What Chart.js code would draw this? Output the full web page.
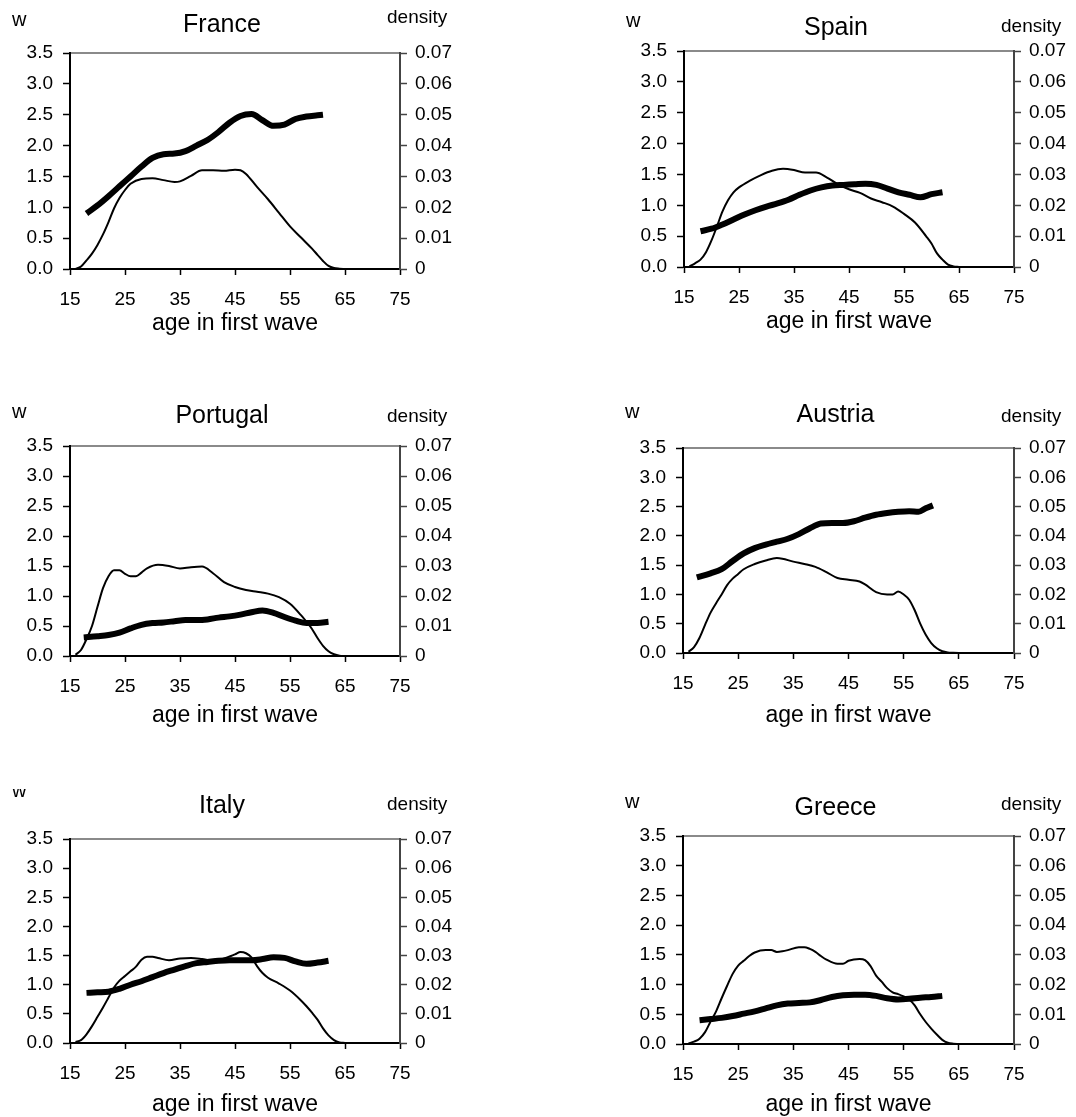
<!DOCTYPE html>
<html>
<head>
<meta charset="utf-8">
<title>w and density by age in first wave</title>
<script src="https://cdn.jsdelivr.net/npm/chart.js@4.4.1/dist/chart.umd.min.js"></script>
<style>
    html, body { margin: 0; padding: 0; background: #fff; }
    #page { position: relative; width: 1076px; height: 1117px; overflow: hidden; }
    #page canvas { position: absolute; }
</style>
</head>
<body>
<div id="page"></div>
<script>
// --- data (w on left axis, density on right axis) ---
const xTicks = [15, 25, 35, 45, 55, 65, 75];
const wTicks = [0, 0.5, 1, 1.5, 2, 2.5, 3, 3.5];
const densityTicks = [0, 0.01, 0.02, 0.03, 0.04, 0.05, 0.06, 0.07];
const densityTickLabels = ['0', '0.01', '0.02', '0.03', '0.04', '0.05', '0.06', '0.07'];

const franceWAge = [18, 20, 22, 24, 26, 28, 30, 32, 34, 36, 38, 40, 42, 44, 46, 48, 50, 52, 54, 56, 58, 60, 61];
const franceW = [0.90, 1.03, 1.18, 1.34, 1.50, 1.66, 1.80, 1.86, 1.87, 1.91, 2.00, 2.09, 2.22, 2.37, 2.48, 2.51, 2.41, 2.32, 2.34, 2.43, 2.47, 2.49, 2.50];
const franceDensAge = [16, 17, 18, 19, 20, 21, 22, 23, 24, 25, 26, 28, 30, 32, 34, 35, 37, 39, 41, 43, 45, 46, 47, 49, 51, 53, 55, 57, 59, 60, 61, 62, 63, 64, 65];
const franceDens = [0, 0.0008, 0.0028, 0.0050, 0.0078, 0.0112, 0.0152, 0.0196, 0.0230, 0.0256, 0.0276, 0.0292, 0.0294, 0.0288, 0.0282, 0.0284, 0.0302, 0.0320, 0.0320, 0.0318, 0.0322, 0.0320, 0.0308, 0.0266, 0.0226, 0.0182, 0.0138, 0.0102, 0.0066, 0.0046, 0.0026, 0.0010, 0.0003, 0.0001, 0];

const spainWAge = [18, 20, 22, 24, 26, 28, 30, 32, 34, 36, 38, 40, 42, 44, 46, 48, 50, 52, 54, 56, 58, 60, 62];
const spainW = [0.58, 0.62, 0.69, 0.77, 0.85, 0.92, 0.98, 1.03, 1.09, 1.17, 1.24, 1.29, 1.32, 1.33, 1.34, 1.35, 1.33, 1.27, 1.21, 1.17, 1.13, 1.18, 1.21];
const spainDensAge = [16, 17, 18, 19, 20, 21, 22, 23, 24, 25, 27, 29, 31, 33, 35, 37, 39, 41, 43, 45, 47, 49, 51, 53, 55, 57, 59, 60, 61, 62, 63, 64, 65];
const spainDens = [0.0002, 0.0012, 0.0024, 0.0048, 0.0086, 0.0132, 0.0180, 0.0216, 0.0242, 0.0258, 0.0280, 0.0298, 0.0312, 0.0318, 0.0314, 0.0306, 0.0306, 0.0290, 0.0268, 0.0252, 0.0240, 0.0222, 0.0210, 0.0196, 0.0172, 0.0144, 0.0100, 0.0076, 0.0044, 0.0024, 0.0008, 0.0002, 0];

const portugalWAge = [17.5, 20, 22, 24, 26, 28, 30, 32, 34, 36, 38, 40, 42, 44, 46, 48, 50, 52, 54, 56, 58, 60, 62];
const portugalW = [0.31, 0.33, 0.35, 0.39, 0.46, 0.52, 0.55, 0.56, 0.58, 0.60, 0.60, 0.61, 0.64, 0.66, 0.69, 0.73, 0.76, 0.72, 0.65, 0.59, 0.55, 0.55, 0.57];
const portugalDensAge = [16, 17, 18, 19, 20, 21, 22, 23, 24, 25, 26, 27, 28, 29, 31, 33, 35, 37, 39, 41, 43, 45, 47, 49, 51, 53, 55, 57, 58, 59, 60, 61, 62, 63, 64, 65];
const portugalDens = [0.0004, 0.0020, 0.0056, 0.0100, 0.0164, 0.0226, 0.0266, 0.0286, 0.0286, 0.0274, 0.0266, 0.0266, 0.0278, 0.0292, 0.0304, 0.0300, 0.0292, 0.0296, 0.0298, 0.0276, 0.0246, 0.0230, 0.0220, 0.0214, 0.0208, 0.0196, 0.0174, 0.0136, 0.0114, 0.0090, 0.0060, 0.0034, 0.0016, 0.0006, 0.0001, 0];

const austriaWAge = [17.5, 20, 22, 24, 26, 28, 30, 32, 34, 36, 38, 40, 42, 44, 46, 48, 50, 52, 54, 56, 57.7, 59, 60.3];
const austriaW = [1.29, 1.36, 1.43, 1.57, 1.70, 1.79, 1.85, 1.90, 1.95, 2.03, 2.13, 2.21, 2.22, 2.22, 2.25, 2.31, 2.36, 2.39, 2.41, 2.42, 2.41, 2.47, 2.52];
const austriaDensAge = [16, 17, 18, 19, 20, 21, 22, 23, 24, 25, 26, 28, 30, 32, 33, 35, 37, 39, 41, 43, 45, 47, 48, 50, 52, 53, 54, 55, 56, 57, 58, 59, 60, 61, 62, 63, 64, 65];
const austriaDens = [0.0004, 0.0020, 0.0052, 0.0096, 0.0138, 0.0170, 0.0200, 0.0232, 0.0254, 0.0270, 0.0286, 0.0304, 0.0316, 0.0324, 0.0322, 0.0312, 0.0304, 0.0294, 0.0276, 0.0256, 0.0250, 0.0244, 0.0234, 0.0208, 0.0200, 0.0200, 0.0210, 0.0200, 0.0182, 0.0146, 0.0100, 0.0062, 0.0034, 0.0016, 0.0006, 0.0002, 0.0001, 0];

const italyWAge = [18, 20, 22, 24, 26, 28, 30, 32, 34, 36, 38, 40, 42, 44, 46, 48, 50, 52, 54, 56, 58, 60, 62];
const italyW = [0.86, 0.87, 0.88, 0.93, 1.00, 1.06, 1.13, 1.20, 1.26, 1.32, 1.37, 1.39, 1.41, 1.42, 1.42, 1.42, 1.44, 1.47, 1.46, 1.40, 1.36, 1.38, 1.41];
const italyDensAge = [16, 17, 18, 19, 20, 21, 22, 23, 24, 25, 26, 27, 28, 29, 30, 31, 33, 35, 37, 39, 41, 43, 45, 46, 47, 48, 49, 50, 51, 53, 55, 57, 58, 59, 60, 61, 62, 63, 64, 65];
const italyDens = [0.0004, 0.0010, 0.0030, 0.0058, 0.0090, 0.0122, 0.0156, 0.0190, 0.0214, 0.0230, 0.0246, 0.0262, 0.0286, 0.0296, 0.0296, 0.0292, 0.0284, 0.0290, 0.0292, 0.0288, 0.0282, 0.0290, 0.0304, 0.0312, 0.0308, 0.0294, 0.0264, 0.0240, 0.0224, 0.0204, 0.0180, 0.0146, 0.0126, 0.0104, 0.0080, 0.0050, 0.0026, 0.0010, 0.0002, 0];

const greeceWAge = [18, 20, 22, 24, 26, 28, 30, 32, 34, 36, 38, 40, 42, 44, 46, 48, 50, 52, 54, 56, 58, 60, 62];
const greeceW = [0.40, 0.42, 0.44, 0.47, 0.51, 0.55, 0.60, 0.65, 0.68, 0.69, 0.70, 0.74, 0.79, 0.82, 0.83, 0.83, 0.81, 0.77, 0.75, 0.76, 0.78, 0.79, 0.81];
const greeceDensAge = [16, 17, 18, 19, 20, 21, 22, 23, 24, 25, 26, 27, 28, 30, 31, 32, 33, 34, 36, 37, 38, 39, 40, 41, 43, 44, 45, 47, 48, 49, 50, 51, 52, 53, 54, 55, 56, 57, 58, 59, 60, 61, 62, 63, 64, 65];
const greeceDens = [0.0002, 0.0008, 0.0018, 0.0040, 0.0076, 0.0110, 0.0154, 0.0196, 0.0236, 0.0264, 0.0280, 0.0296, 0.0308, 0.0316, 0.0316, 0.0310, 0.0312, 0.0316, 0.0326, 0.0326, 0.0320, 0.0310, 0.0296, 0.0284, 0.0270, 0.0270, 0.0280, 0.0286, 0.0282, 0.0262, 0.0230, 0.0210, 0.0188, 0.0174, 0.0168, 0.0160, 0.0150, 0.0130, 0.0100, 0.0074, 0.0052, 0.0032, 0.0014, 0.0004, 0.0001, 0];

// --- layout: plot box [left, top, right, bottom] in page pixels + text offsets above the plot ---
const FONT = '"Liberation Sans", Arial, Helvetica, sans-serif';
const LEFT_W = 70;
const RIGHT_W = 62;
const TOP_PAD = 50;
const BOTTOM_H = 80;

const panels = [
    { title: 'France',   wAge: franceWAge,   w: franceW,   densAge: franceDensAge,   dens: franceDens,   box: [70, 53, 400, 269],   wOff: 27, titleOff: 21, densOff: 30, xTitlePad: 12 },
    { title: 'Spain',    wAge: spainWAge,    w: spainW,    densAge: spainDensAge,    dens: spainDens,    box: [684, 51, 1014, 267], wOff: 24, titleOff: 16, densOff: 19, xTitlePad: 12 },
    { title: 'Portugal', wAge: portugalWAge, w: portugalW, densAge: portugalDensAge, dens: portugalDens, box: [70, 446, 400, 656],  wOff: 28, titleOff: 23, densOff: 24, xTitlePad: 7 },
    { title: 'Austria',  wAge: austriaWAge,  w: austriaW,  densAge: austriaDensAge,  dens: austriaDens,  box: [683, 448, 1014, 653], wOff: 30, titleOff: 26, densOff: 26, xTitlePad: 4 },
    { title: 'Italy',    wAge: italyWAge,    w: italyW,    densAge: italyDensAge,    dens: italyDens,    box: [70, 839, 400, 1043], wOff: 42, titleOff: 26, densOff: 29, xTitlePad: 5 },
    { title: 'Greece',   wAge: greeceWAge,   w: greeceW,   densAge: greeceDensAge,   dens: greeceDens,   box: [683, 836, 1014, 1044], wOff: 28, titleOff: 21, densOff: 26, xTitlePad: 6 }
];

// draws "w", the country name and "density" above each plot
const panelText = {
    id: 'panelText',
    afterDraw(chart, args, opts) {
        const { ctx, chartArea: a } = chart;
        ctx.save();
        ctx.fillStyle = '#000';
        ctx.textBaseline = 'alphabetic';

        ctx.font = `20px ${FONT}`;
        ctx.textAlign = 'left';
        ctx.fillText('w', a.left - 58, a.top - opts.wOff);

        ctx.font = `25px ${FONT}`;
        ctx.textAlign = 'center';
        ctx.fillText(opts.title, (a.left + a.right) / 2 - 13, a.top - opts.titleOff);

        ctx.font = `19px ${FONT}`;
        ctx.textAlign = 'left';
        ctx.fillText('density', a.right - 13, a.top - opts.densOff);
        ctx.restore();
    }
};

Chart.defaults.font.family = FONT;
Chart.defaults.color = '#000';

const page = document.getElementById('page');

panels.forEach(p => {
    const [l, t, r, b] = p.box;
    const cw = r - l + LEFT_W + RIGHT_W;
    const ch = b - t + TOP_PAD + BOTTOM_H;
    const canvas = document.createElement('canvas');
    canvas.width = cw;
    canvas.height = ch;
    canvas.style.left = (l - LEFT_W) + 'px';
    canvas.style.top = (t - TOP_PAD) + 'px';
    canvas.style.width = cw + 'px';
    canvas.style.height = ch + 'px';
    page.appendChild(canvas);

    new Chart(canvas, {
        type: 'line',
        data: {
            datasets: [
                {
                    label: 'w',
                    data: p.wAge.map((x, i) => ({ x, y: p.w[i] })),
                    xAxisID: 'x',
                    yAxisID: 'w',
                    borderColor: '#000',
                    borderWidth: 6,
                    borderCapStyle: 'butt',
                    borderJoinStyle: 'round',
                    pointRadius: 0,
                    cubicInterpolationMode: 'monotone'
                },
                {
                    label: 'density',
                    data: p.densAge.map((x, i) => ({ x, y: p.dens[i] })),
                    xAxisID: 'x',
                    yAxisID: 'density',
                    borderColor: '#000',
                    borderWidth: 2,
                    pointRadius: 0,
                    cubicInterpolationMode: 'monotone'
                }
            ]
        },
        options: {
            responsive: false,
            animation: false,
            events: [],
            layout: { padding: { top: TOP_PAD, left: 0, right: 0, bottom: 0 } },
            plugins: {
                legend: { display: false },
                tooltip: { enabled: false },
                panelText: { title: p.title, wOff: p.wOff, titleOff: p.titleOff, densOff: p.densOff }
            },
            scales: {
                x: {
                    type: 'linear',
                    position: 'bottom',
                    min: 15,
                    max: 75,
                    afterBuildTicks: s => { s.ticks = xTicks.map(v => ({ value: v })); },
                    afterFit: s => { s.height = BOTTOM_H; },
                    ticks: { font: { size: 19 }, padding: 13, maxRotation: 0, autoSkip: false, color: '#000' },
                    grid: { drawOnChartArea: false, drawTicks: true, tickLength: 6, tickWidth: 1.5, tickColor: '#000' },
                    border: { color: '#000', width: 2 },
                    title: {
                        display: true,
                        text: 'age in first wave',
                        color: '#000',
                        font: { size: 23 },
                        padding: { top: 0, bottom: p.xTitlePad }
                    }
                },
                xTop: {
                    type: 'linear',
                    position: 'top',
                    min: 15,
                    max: 75,
                    afterFit: s => { s.height = 0; },
                    ticks: { display: false },
                    grid: { display: false },
                    border: { color: '#8a8a8a', width: 2 }
                },
                w: {
                    type: 'linear',
                    position: 'left',
                    min: 0,
                    max: 3.5,
                    afterBuildTicks: s => { s.ticks = wTicks.map(v => ({ value: v })); },
                    afterFit: s => { s.width = LEFT_W; },
                    ticks: { font: { size: 19 }, padding: 10, color: '#000', callback: v => v.toFixed(1) },
                    grid: { drawOnChartArea: false, tickLength: 7, tickWidth: 1.5, tickColor: '#000' },
                    border: { color: '#000', width: 2 }
                },
                density: {
                    type: 'linear',
                    position: 'right',
                    min: 0,
                    max: 0.07,
                    afterBuildTicks: s => { s.ticks = densityTicks.map(v => ({ value: v })); },
                    afterFit: s => { s.width = RIGHT_W; },
                    ticks: {
                        font: { size: 19 },
                        padding: 8,
                        color: '#000',
                        callback: (v, i) => densityTickLabels[i]
                    },
                    grid: { drawOnChartArea: false, tickLength: 7, tickWidth: 1.5, tickColor: '#444' },
                    border: { color: '#444', width: 2 }
                }
            }
        },
        plugins: [panelText]
    });
});
</script>
</body>
</html>
